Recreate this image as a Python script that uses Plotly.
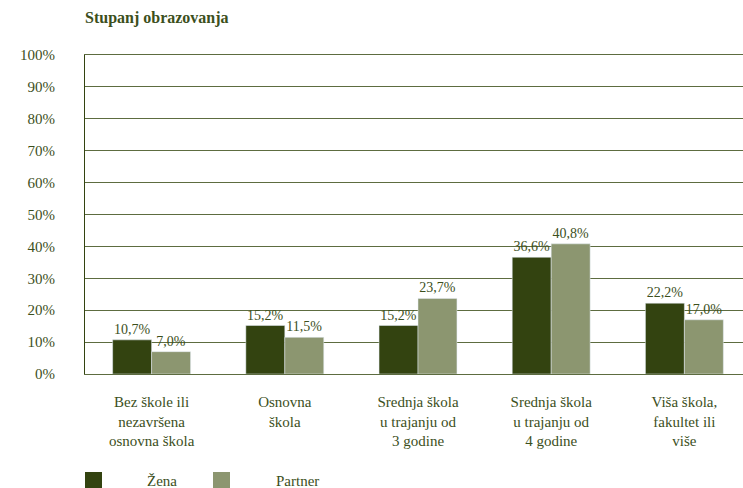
import plotly.graph_objects as go

categories = [
    "Bez škole ili<br>nezavršena<br>osnovna škola",
    "Osnovna<br>škola",
    "Srednja škola<br>u trajanju od<br>3 godine",
    "Srednja škola<br>u trajanju od<br>4 godine",
    "Viša škola,<br>fakultet ili<br>više",
]
series_names = ["Žena", "Partner"]
zena = [10.7, 15.2, 15.2, 36.6, 22.2]
partner = [7.0, 11.5, 23.7, 40.8, 17.0]
y_ticks = list(range(0, 101, 10))
y_tick_labels = [f"{v}%" for v in y_ticks]

DARK = "#334310"
LIGHT = "#8c9670"
TXT = "#3c4f1c"
GRID = "#5d6c40"
FONT = "Liberation Serif, Times New Roman, serif"

W, H = 743, 488
L, T, B = 85, 55, 114

fig = go.Figure()
for name, vals, col in [(series_names[0], zena, DARK), (series_names[1], partner, LIGHT)]:
    fig.add_trace(go.Bar(
        x=categories, y=vals, name=name, marker_color=col,
        texttemplate="%{y:.1f}%", textposition="outside", cliponaxis=False,
        textfont=dict(family=FONT, size=14, color=TXT), showlegend=False,
    ))

# custom legend (larger swatches as in the reference)
pw = W - L
def px_to_paper_x(px):
    return (px - L) / pw
ph = H - T - B
def px_to_paper_y(py):
    return (H - B - py) / ph

legend_items = [(series_names[0], DARK, 85, 162), (series_names[1], LIGHT, 213, 297)]
for name, col, sx, tx in legend_items:
    fig.add_shape(type="rect", xref="paper", yref="paper",
                  x0=px_to_paper_x(sx), x1=px_to_paper_x(sx + 17),
                  y0=px_to_paper_y(490), y1=px_to_paper_y(472),
                  fillcolor=col, line_width=0)
    fig.add_annotation(text=name, xref="paper", yref="paper",
                       x=px_to_paper_x(tx), y=px_to_paper_y(481),
                       xanchor="center", yanchor="middle", showarrow=False,
                       font=dict(family=FONT, size=15, color=TXT))

fig.update_layout(
    width=W, height=H,
    margin=dict(l=L, r=0, t=T, b=B, autoexpand=False),
    separators=",.",
    paper_bgcolor="white", plot_bgcolor="white",
    font=dict(family=FONT, size=14, color=TXT),
    barmode="group", bargap=0.415, bargroupgap=0,
    title=dict(text="<b>Stupanj obrazovanja</b>", x=L / W, xanchor="left",
               y=1 - 17 / H, yanchor="middle",
               font=dict(family=FONT, size=16, color=TXT)),
    showlegend=False,
)
fig.update_xaxes(
    range=[-0.5, 4.44], showline=True, mirror=True, linecolor=GRID, linewidth=1,
    ticks="", ticklabelstandoff=14, automargin=False,
    tickfont=dict(family=FONT, size=15, color=TXT),
)
fig.update_yaxes(
    range=[0, 100], tickvals=y_ticks, ticktext=y_tick_labels, showgrid=True,
    gridcolor=GRID, gridwidth=1, showline=True, linecolor=DARK, linewidth=1,
    zeroline=False, ticks="", ticklabelstandoff=26, automargin=False,
    tickfont=dict(family=FONT, size=15, color=TXT),
)

fig.write_html("out.html", config={"displayModeBar": False},
               post_script="document.body.style.margin='0';document.body.style.overflow='hidden';")
